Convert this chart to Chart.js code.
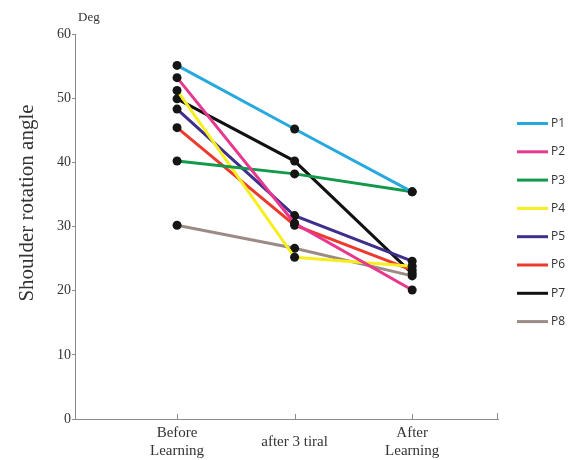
<!DOCTYPE html>
<html>
<head>
<meta charset="utf-8">
<script src="https://cdn.jsdelivr.net/npm/chart.js@4/dist/chart.umd.min.js"></script>
<style>
  body { margin: 0; background: #fff; }
</style>
</head>
<body>
<canvas id="chartAngle" width="576" height="460"></canvas>
<script>
// categories de l'axe x
var xLabels = [['Before', 'Learning'], 'after 3 tiral', ['After', 'Learning']];
var yTicks = [0, 10, 20, 30, 40, 50, 60];

// valeurs par participant (angle en degres)
var serieP1 = [55.1, 45.2, 35.4];
var serieP2 = [53.2, 30.5, 20.1];
var serieP3 = [40.2, 38.2, 35.4];
var serieP4 = [51.2, 25.2, 23.8];
var serieP5 = [48.3, 31.7, 24.6];
var serieP6 = [45.4, 30.2, 23.2];
var serieP7 = [49.9, 40.2, 22.7];
var serieP8 = [30.2, 26.6, 22.3];

var noms = ['P1', 'P2', 'P3', 'P4', 'P5', 'P6', 'P7', 'P8'];
var series = [serieP1, serieP2, serieP3, serieP4, serieP5, serieP6, serieP7, serieP8];
var couleurs = ['#27a9df', '#e8388e', '#129a4a', '#f7ee1f', '#3e2f8c', '#ec3a2e', '#111111', '#9c8b84'];

var datasetsValue = [];
for (var i = 0; i < series.length; i++) {
    datasetsValue.push({
        label: noms[i],
        data: series[i].map(function (v, k) { return { x: k, y: v }; }),
        borderColor: couleurs[i],
        backgroundColor: couleurs[i],
        borderWidth: 3,
        pointRadius: 4.5,
        pointHoverRadius: 4.5,
        pointBackgroundColor: '#151515',
        pointBorderWidth: 0,
        tension: 0,
        clip: false
    });
}

// legende, titres et petits traits de l'axe x
const decorPlugin = {
    id: 'decor',
    afterDraw: function (chart) {
        var ctx = chart.ctx;
        var xs = chart.scales.x;
        var area = chart.chartArea;
        ctx.save();
        // traits vers le haut sur l'axe x
        ctx.strokeStyle = '#8a8a8a';
        ctx.lineWidth = 1;
        [0, 1, 2].forEach(function (v) {
            var px = Math.round(xs.getPixelForValue(v)) + 0.5;
            ctx.beginPath();
            ctx.moveTo(px, area.bottom);
            ctx.lineTo(px, area.bottom - 5);
            ctx.stroke();
        });
        ctx.beginPath();
        ctx.moveTo(area.right - 0.5, area.bottom);
        ctx.lineTo(area.right - 0.5, area.bottom - 6);
        ctx.stroke();

        // titre de l'axe y
        ctx.fillStyle = '#333';
        ctx.font = '21px "Liberation Serif", serif';
        ctx.textAlign = 'center';
        ctx.textBaseline = 'middle';
        ctx.translate(27, 203);
        ctx.rotate(-Math.PI / 2);
        ctx.fillText('Shoulder rotation angle', 0, 0);
        ctx.setTransform(1, 0, 0, 1, 0, 0);

        ctx.font = '13px "Liberation Serif", serif';
        ctx.textAlign = 'left';
        ctx.textBaseline = 'alphabetic';
        ctx.fillText('Deg', 78, 21);

        // legende
        ctx.font = '12px "Open Sans", sans-serif';
        ctx.textBaseline = 'middle';
        chart.data.datasets.forEach(function (ds, k) {
            var y = 123.5 + k * 28.3;
            ctx.strokeStyle = ds.borderColor;
            ctx.lineWidth = 3;
            ctx.beginPath();
            ctx.moveTo(517, y);
            ctx.lineTo(548, y);
            ctx.stroke();
            ctx.fillStyle = '#333';
            ctx.fillText(ds.label, 551, y);
        });
        ctx.restore();
    }
};

const chartElem = document.getElementById('chartAngle').getContext('2d');
new Chart(chartElem, {
    type: 'line',
    data: { datasets: datasetsValue },
    options: {
        responsive: false,
        animation: false,
        layout: { padding: { top: 34, right: 78, left: 0, bottom: 0 } },
        plugins: {
            legend: { display: false },
            tooltip: { enabled: false }
        },
        scales: {
            x: {
                type: 'linear',
                min: -0.868,
                max: 2.73,
                afterBuildTicks: function (scale) {
                    scale.ticks = [{ value: 0 }, { value: 1 }, { value: 2 }];
                },
                afterFit: function (scale) { scale.height = 41; },
                grid: { display: false },
                border: { color: '#8a8a8a', width: 1 },
                ticks: {
                    autoSkip: false,
                    maxRotation: 0,
                    padding: 6,
                    crossAlign: 'center',
                    color: '#333',
                    font: { family: '"Liberation Serif", serif', size: 15, lineHeight: 1.2 },
                    callback: function (v) { return xLabels[v]; }
                }
            },
            y: {
                min: 0,
                max: 60,
                afterBuildTicks: function (scale) {
                    scale.ticks = yTicks.map(function (v) { return { value: v }; });
                },
                afterFit: function (scale) { scale.width = 75; },
                grid: { drawOnChartArea: false, tickLength: 3, color: '#8a8a8a' },
                border: { color: '#8a8a8a', width: 1 },
                ticks: {
                    padding: 1,
                    color: '#333',
                    font: { family: '"Liberation Serif", serif', size: 14 }
                }
            }
        }
    },
    plugins: [decorPlugin]
});
</script>
</body>
</html>
